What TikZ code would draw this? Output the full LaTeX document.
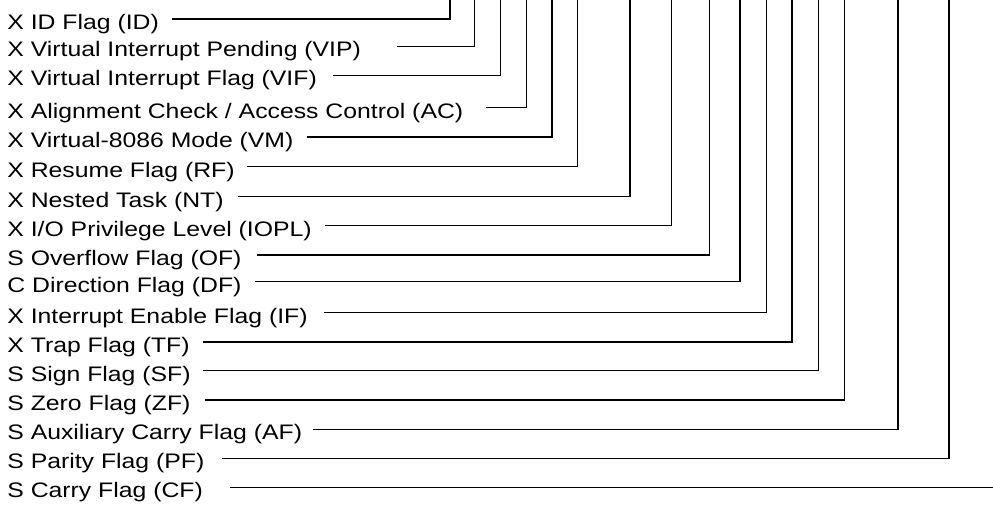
\documentclass[tikz,border=0pt]{standalone}
\usepackage{fontspec}
\setmainfont{Liberation Sans}[FakeStretch=1.18]
\usepackage{tikz}

\begin{document}
\begin{tikzpicture}[x=0.5pt,y=-0.5pt,every node/.style={font=\fontsize{10.5}{12}\selectfont},
      flag/.style={anchor=base west,inner sep=0pt,yshift=-5.2pt},
      wire/.style={line width=0.75pt,black}]
      \useasboundingbox (0,0) rectangle (993,507);
      % labels, one per EFLAGS bit
      \node[flag] (ID) at (7,19) {X ID Flag (ID)};
      \node[flag] (VIP) at (7,46.5) {X Virtual Interrupt Pending (VIP)};
      \node[flag] (VIF) at (7,75.5) {X Virtual Interrupt Flag (VIF)};
      \node[flag] (AC) at (7,107.7) {X Alignment Check / Access Control (AC)};
      \node[flag] (VM) at (7,137) {X Virtual-8086 Mode (VM)};
      \node[flag] (RF) at (7,166.7) {X Resume Flag (RF)};
      \node[flag] (NT) at (7,196.7) {X Nested Task (NT)};
      \node[flag] (IOPL) at (7,225.7) {X I/O Privilege Level (IOPL)};
      \node[flag] (OF) at (7,255) {S Overflow Flag (OF)};
      \node[flag] (DF) at (7,281.7) {C Direction Flag (DF)};
      \node[flag] (IF) at (7,312.7) {X Interrupt Enable Flag (IF)};
      \node[flag] (TF) at (7,342) {X Trap Flag (TF)};
      \node[flag] (SF) at (7,370.7) {S Sign Flag (SF)};
      \node[flag] (ZF) at (7,400) {S Zero Flag (ZF)};
      \node[flag] (AF) at (7,429.3) {S Auxiliary Carry Flag (AF)};
      \node[flag] (PF) at (7,458.3) {S Parity Flag (PF)};
      \node[flag] (CF) at (7,487.3) {S Carry Flag (CF)};
      % leader start points and bit positions
      \coordinate (ID-from) at (171.7,19); \coordinate (ID-bit) at (450,-3);
      \coordinate (VIP-from) at (396.5,46.5); \coordinate (VIP-bit) at (474.5,-3);
      \coordinate (VIF-from) at (333,75.5); \coordinate (VIF-bit) at (500.7,-3);
      \coordinate (AC-from) at (486,107.7); \coordinate (AC-bit) at (526.7,-3);
      \coordinate (VM-from) at (306.7,137); \coordinate (VM-bit) at (552,-3);
      \coordinate (RF-from) at (246.7,166.7); \coordinate (RF-bit) at (577.7,-3);
      \coordinate (NT-from) at (238.3,196.7); \coordinate (NT-bit) at (630,-3);
      \coordinate (IOPL-from) at (325,225.7); \coordinate (IOPL-bit) at (671.7,-3);
      \coordinate (OF-from) at (256.7,255); \coordinate (OF-bit) at (709.5,-3);
      \coordinate (DF-from) at (255,281.7); \coordinate (DF-bit) at (740,-3);
      \coordinate (IF-from) at (324,312.7); \coordinate (IF-bit) at (766.7,-3);
      \coordinate (TF-from) at (203.3,342); \coordinate (TF-bit) at (792,-3);
      \coordinate (SF-from) at (203.3,370.7); \coordinate (SF-bit) at (818.7,-3);
      \coordinate (ZF-from) at (205,400); \coordinate (ZF-bit) at (844.7,-3);
      \coordinate (AF-from) at (313.3,429.3); \coordinate (AF-bit) at (898,-3);
      \coordinate (PF-from) at (221.7,458.3); \coordinate (PF-bit) at (949,-3);
      \coordinate (CF-from) at (230,487.3); \coordinate (CF-bit) at (996,487.3);
      \draw[wire] (ID-from) -| (ID-bit); \draw[wire] (VIP-from) -| (VIP-bit);
      \draw[wire] (VIF-from) -| (VIF-bit); \draw[wire] (AC-from) -| (AC-bit);
      \draw[wire] (VM-from) -| (VM-bit); \draw[wire] (RF-from) -| (RF-bit);
      \draw[wire] (NT-from) -| (NT-bit); \draw[wire] (IOPL-from) -| (IOPL-bit);
      \draw[wire] (OF-from) -| (OF-bit); \draw[wire] (DF-from) -| (DF-bit);
      \draw[wire] (IF-from) -| (IF-bit); \draw[wire] (TF-from) -| (TF-bit);
      \draw[wire] (SF-from) -| (SF-bit); \draw[wire] (ZF-from) -| (ZF-bit);
      \draw[wire] (AF-from) -| (AF-bit); \draw[wire] (PF-from) -| (PF-bit);
      \draw[wire] (CF-from) -- (CF-bit);
    \end{tikzpicture}
\end{document}
